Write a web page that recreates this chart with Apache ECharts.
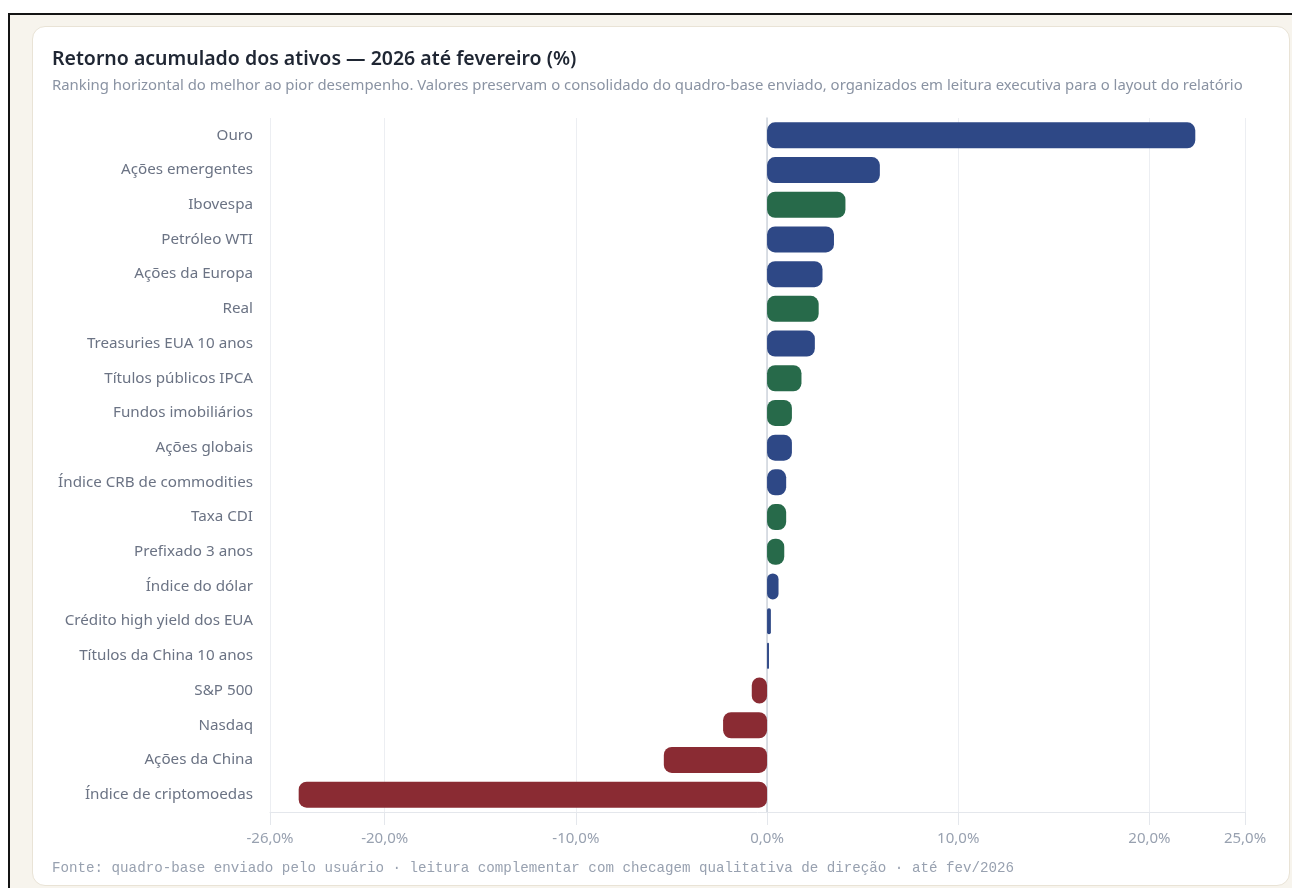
<!DOCTYPE html>
<html lang="pt-BR">
<head>
<meta charset="utf-8">
<title>Retorno acumulado dos ativos — 2026 até fevereiro (%)</title>
<script src="https://cdn.jsdelivr.net/npm/echarts@6/dist/echarts.min.js"></script>
<style>
  html, body { margin: 0; padding: 0; width: 1292px; height: 888px; overflow: hidden; background: #ffffff; }
  .frame {
    position: absolute; left: 8px; top: 13px; width: 1300px; height: 900px;
    border-left: 2px solid #141414; border-top: 2px solid #141414;
    background: #f7f4ed;
  }
  .card {
    position: absolute; left: 32px; top: 26px; width: 1256px; height: 858px;
    background: #ffffff; border: 1px solid #e9e3d6; border-radius: 13px;
  }
  #chart { position: absolute; left: 0; top: 0; width: 1292px; height: 888px; }
</style>
</head>
<body>
<div class="frame"></div>
<div class="card"></div>
<div id="chart"></div>
<script>
// Ativos do melhor ao pior desempenho (acumulado em 2026 até fevereiro, %)
const categories = [
  'Ouro', 'Ações emergentes', 'Ibovespa', 'Petróleo WTI', 'Ações da Europa',
  'Real', 'Treasuries EUA 10 anos', 'Títulos públicos IPCA', 'Fundos imobiliários',
  'Ações globais', 'Índice CRB de commodities', 'Taxa CDI', 'Prefixado 3 anos',
  'Índice do dólar', 'Crédito high yield dos EUA', 'Títulos da China 10 anos',
  'S&P 500', 'Nasdaq', 'Ações da China', 'Índice de criptomoedas'
];
const values = [
  22.4, 5.9, 4.1, 3.5, 2.9,
  2.7, 2.5, 1.8, 1.3,
  1.3, 1.0, 1.0, 0.9,
  0.6, 0.2, 0.1,
  -0.8, -2.3, -5.4, -24.5
];
// Origem do ativo: 'br' = mercado brasileiro, 'ext' = mercado externo
const origins = [
  'ext', 'ext', 'br', 'ext', 'ext',
  'br', 'ext', 'br', 'br',
  'ext', 'ext', 'br', 'br',
  'ext', 'ext', 'ext',
  'ext', 'ext', 'ext', 'ext'
];
const tickValues = [-26, -20, -10, 0, 10, 20, 25];

const palette = { ext: '#2e4886', br: '#276a4a', neg: '#8a2b33' };
const sans = '"Noto Sans", "Open Sans", sans-serif';

const fmt = v => v.toFixed(1).replace('.', ',') + '%';

const chart = echarts.init(document.getElementById('chart'), null, { renderer: 'canvas' });
chart.setOption({
  animation: false,
  title: {
    text: 'Retorno acumulado dos ativos — 2026 até fevereiro (%)',
    subtext: 'Ranking horizontal do melhor ao pior desempenho. Valores preservam o consolidado do quadro-base enviado, organizados em leitura executiva para o layout do relatório',
    left: 47, top: 44, itemGap: 9,
    textStyle: { fontFamily: sans, fontSize: 19.5, fontWeight: 600, color: '#1f2633' },
    subtextStyle: { fontFamily: sans, fontSize: 14.9, color: '#8a93a3' }
  },
  grid: { left: 270, right: 47, top: 118, bottom: 76, containLabel: false },
  xAxis: {
    type: 'value', min: -26, max: 25,
    axisLine: { show: true, lineStyle: { color: '#e4e7ec', width: 1 } },
    axisTick: { show: true, length: 13, customValues: tickValues, lineStyle: { color: '#e4e7ec' } },
    axisLabel: {
      customValues: tickValues, formatter: fmt, margin: 19,
      fontFamily: sans, fontSize: 15, color: '#98a1b0'
    },
    splitLine: { show: true, lineStyle: { color: '#eceef2', width: 1 } }
  },
  yAxis: {
    type: 'category', data: categories, inverse: true,
    axisLine: { show: true, onZero: true, lineStyle: { color: '#cfd4dc', width: 1.5 } },
    axisTick: { show: false },
    axisLabel: {
      margin: 17, fontFamily: sans, fontSize: 15.2, color: '#6b7384'
    }
  },
  series: [{
    type: 'bar',
    barCategoryGap: '25%',
    data: values.map((v, i) => ({
      value: v,
      itemStyle: { color: v < 0 ? palette.neg : palette[origins[i]] }
    })),
    itemStyle: { borderRadius: 8 }
  }],
  graphic: [{
    type: 'text', left: 52, top: 861,
    style: {
      text: 'Fonte: quadro-base enviado pelo usuário · leitura complementar com checagem qualitativa de direção · até fev/2026',
      font: '14.2px "Liberation Mono", "DejaVu Sans Mono", monospace',
      fill: '#98a1b0'
    }
  }]
});
</script>
</body>
</html>
